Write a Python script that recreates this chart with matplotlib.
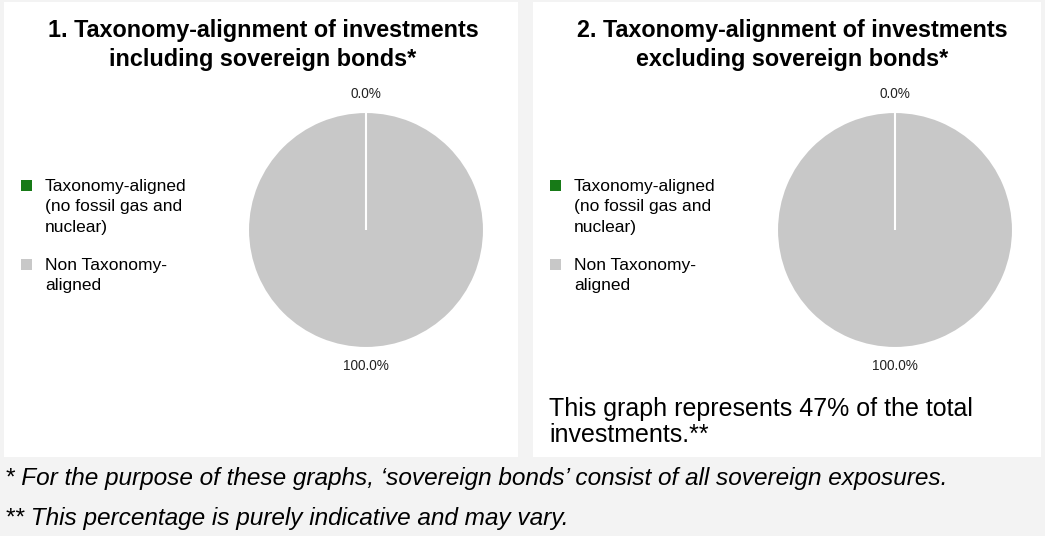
import matplotlib
matplotlib.use("Agg")
import matplotlib.pyplot as plt
from matplotlib.patches import Rectangle

plt.rcParams['font.family'] = ['Liberation Sans', 'DejaVu Sans']

# data
categories = ["Taxonomy-aligned\n(no fossil gas and\nnuclear)", "Non Taxonomy-\naligned"]
incl_sov = [0.0, 100.0]
excl_sov = [0.0, 100.0]
colors = ["#177a17", "#c8c8c8"]
titles = ["1. Taxonomy-alignment of investments\nincluding sovereign bonds*",
          "2. Taxonomy-alignment of investments\nexcluding sovereign bonds*"]
share_note = "This graph represents 47% of the total\ninvestments.**"
footnotes = ["* For the purpose of these graphs, \u2018sovereign bonds\u2019 consist of all sovereign exposures.",
             "** This percentage is purely indicative and may vary."]

W, H = 1045, 536
fig = plt.figure(figsize=(W / 100, H / 100), dpi=100, facecolor="#f3f3f3")

def px(x, y):
    # pixel coords (top-left origin) -> figure fraction
    return x / W, 1 - y / H

# white panels
for x0, x1 in [(4, 518), (533, 1041)]:
    fig.patches.append(Rectangle((x0 / W, 1 - 457 / H), (x1 - x0) / W, 455 / H,
                                 transform=fig.transFigure, facecolor="white",
                                 edgecolor="none", zorder=-5))

panels = [(0, 366, incl_sov), (529, 895, excl_sov)]
R = 118
for i, (off, cx, vals) in enumerate(panels):
    ax = fig.add_axes([(cx - R) / W, (H - 230 - R) / H, 2 * R / W, 2 * R / H])
    wedges, _, pcts = ax.pie(vals, colors=colors, startangle=90, counterclock=False,
                             autopct='%1.1f%%', pctdistance=1.155,
                             wedgeprops=dict(edgecolor="white", linewidth=1.5),
                             textprops=dict(fontsize=9.8, color="#222222"))
    # keep the zero slice's white edge visible on top of the full slice
    wedges[0].set_zorder(3)
    ax.set_xlim(-1, 1)
    ax.set_ylim(-1, 1)
    ax.set_aspect("equal")
    ax.axis("off")

    fig.text(*px(off + 263, 45), titles[i], ha="center", va="center",
             fontsize=16.8, fontweight="bold", linespacing=1.38)

    # legend
    for j, (lab, col) in enumerate(zip(categories, colors)):
        ly = [185, 264][j]
        fig.patches.append(Rectangle(((off + 21) / W, 1 - (ly + 6) / H), 11 / W, 11 / H,
                                     transform=fig.transFigure, facecolor=col,
                                     edgecolor="none"))
        fig.text(*px(off + 45, ly - 6), lab, ha="left", va="top",
                 fontsize=12.5, linespacing=1.45)

fig.text(*px(549, 422), share_note, ha="left", va="center", fontsize=18,
         linespacing=1.06)
fig.text(*px(5, 478), footnotes[0], ha="left", va="center", fontsize=17.55,
         style="italic")
fig.text(*px(5, 519), footnotes[1], ha="left", va="center", fontsize=17.55,
         style="italic")

fig.savefig("out.png", dpi=100, facecolor=fig.get_facecolor())
